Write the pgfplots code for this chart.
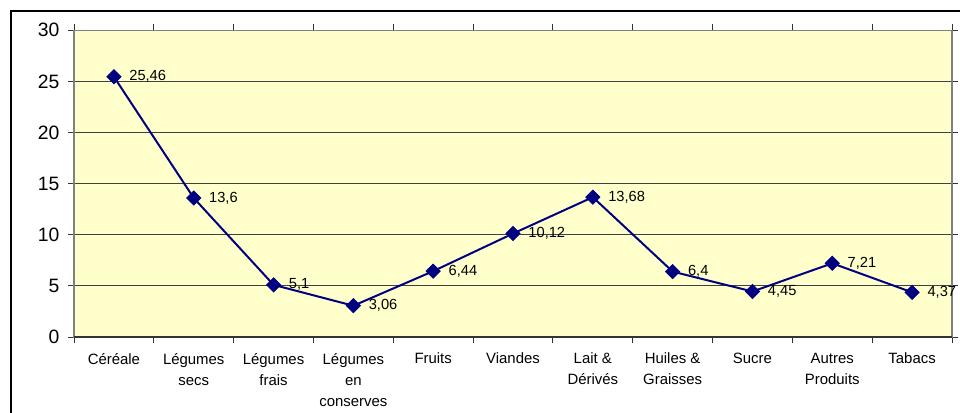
\documentclass[border=0pt]{standalone}
\usepackage{pgfplots}
\pgfplotsset{compat=1.18}
\usepackage{fontspec}
\setmainfont{Liberation Sans}

\definecolor{plotfill}{HTML}{FFFFCC}
\definecolor{navyline}{HTML}{000080}

\begin{document}
\begin{tikzpicture}[x=0.75pt,y=0.75pt]
\useasboundingbox (0,0) rectangle (960,412);
% outer frame (right and bottom edges fall outside the picture)
\draw[line width=1.6pt] (11,-10) -- (11,401) -- (970,401);
\begin{axis}[
  at={(55.5pt,56.25pt)}, anchor=south west,
  scale only axis, width=658.5pt, height=230pt,
  xmin=-0.5, xmax=10.5, ymin=0, ymax=30,
  clip=false,
  axis background/.style={fill=plotfill},
  axis line style={draw=gray, line width=1pt},
  ytick={0,5,...,30},
  ymajorgrids, grid style={black!75, line width=0.75pt},
  tick align=outside, major tick length=4.5pt, minor tick length=4.5pt,
  every tick/.style={black!80, line width=0.75pt},
  xtick={0,...,10},
  every major x tick/.append style={draw=none},
  minor xtick={-0.5,0.5,...,10.5},
  xticklabels={C\'er\'eale, {L\'egumes\\secs}, {L\'egumes\\frais},
    {L\'egumes\\en\\conserves}, Fruits, Viandes, {Lait \&\\D\'eriv\'es},
    {Huiles \&\\Graisses}, Sucre, {Autres\\Produits}, Tabacs},
  xticklabel style={align=center, font=\fontsize{11.2}{15.75}\selectfont, yshift=-4pt},
  yticklabel style={font=\fontsize{14.5}{17}\selectfont, xshift=-3pt},
  /pgf/number format/assume math mode=true,
  nodes near coords, point meta=explicit symbolic,
  every node near coord/.append style={anchor=west, xshift=8pt, text=black,
    font=\fontsize{11}{13}\selectfont},
]
\draw[black!80, line width=0.9pt] (axis cs:-0.5,0) -- (axis cs:10.5,0);
\addplot[navyline, line width=1.5pt, mark=square*, mark size=3.8pt,
  mark options={rotate=45, fill=navyline, draw=navyline, line width=0.5pt}]
  coordinates {
  (0,25.46) [25,46]
  (1,13.6)  [13,6]
  (2,5.1)   [5,1]
  (3,3.06)  [3,06]
  (4,6.44)  [6,44]
  (5,10.12) [10,12]
  (6,13.68) [13,68]
  (7,6.4)   [6,4]
  (8,4.45)  [4,45]
  (9,7.21)  [7,21]
  (10,4.37) [4,37]
};
\end{axis}
\end{tikzpicture}
\end{document}
